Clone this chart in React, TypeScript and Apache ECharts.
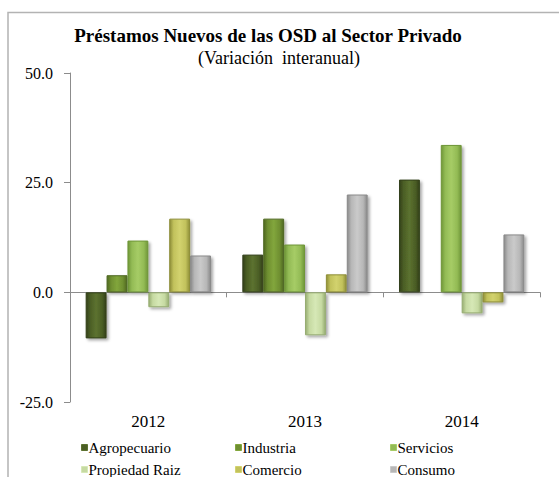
import React, { useEffect, useRef } from "react";
import * as echarts from "echarts";

const categories = ["2012", "2013", "2014"];
const seriesNames = ["Agropecuario", "Industria", "Servicios", "Propiedad Raiz", "Comercio", "Consumo"];
const agropecuario = [-10.5, 8.6, 25.7];
const industria = [3.9, 16.8, 0.2];
const servicios = [11.8, 10.9, 33.6];
const propiedadRaiz = [-3.4, -9.8, -4.8];
const comercio = [16.8, 4.1, -2.3];
const consumo = [8.4, 22.3, 13.2];
const yTicks = [-25, 0, 25, 50];

const seriesValues = [agropecuario, industria, servicios, propiedadRaiz, comercio, consumo];
const baseColors = ["#4b5e25", "#6f8f31", "#93bb55", "#c6daa2", "#c2c25c", "#b7b7b7"];
const edgeColors = ["#33401a", "#4f6822", "#6f9638", "#97ad72", "#8f8f38", "#8a8a8a"];
const lightColors = ["#5c7230", "#82a63c", "#a6cc66", "#d6e8b6", "#d2d26e", "#cacaca"];

const FONT = "Liberation Serif";

export default function App() {
  const ref = useRef<HTMLDivElement>(null);
  useEffect(() => {
    if (!ref.current) return;
    const chart = echarts.init(ref.current, undefined, { renderer: "svg" });
    const legendPos = [
      [81, 440], [235, 440], [390, 440],
      [81, 462], [235, 462], [390, 462],
    ];
    chart.setOption({
      animation: false,
      backgroundColor: "#ffffff",
      textStyle: { fontFamily: FONT },
      title: [
        {
          text: "Préstamos Nuevos de las OSD al Sector Privado",
          left: 263,
          top: 21,
          textAlign: "center",
          textStyle: { fontFamily: FONT, fontSize: 19, fontWeight: "bold", color: "#000" },
        },
        {
          text: "(Variación  interanual)",
          left: 274,
          top: 44,
          textAlign: "center",
          textStyle: { fontFamily: FONT, fontSize: 18, fontWeight: "normal", color: "#000" },
        },
      ],
      graphic: [
        {
          type: "polyline",
          shape: { points: [[8, 480], [8, 12.5], [600, 12.5]] },
          style: { stroke: "#b3b3b3", lineWidth: 1.5, fill: null },
          silent: true,
        },
      ],
      legend: seriesNames.map((n, i) => ({
        data: [{ name: n, itemStyle: { color: baseColors[i], borderColor: lightColors[i], borderWidth: 1 } }],
        left: legendPos[i][0],
        top: legendPos[i][1],
        itemWidth: 6,
        itemHeight: 6,
        itemGap: 0,
        padding: 0,
        icon: "rect",
        selectedMode: false,
        textStyle: { fontFamily: FONT, fontSize: 15, color: "#000", padding: [0, 0, 0, -4] },
      })),
      grid: { left: 70, right: 19, top: 73, bottom: 75, containLabel: false },
      xAxis: [
        {
          type: "category",
          data: categories,
          position: "bottom",
          axisLine: { show: true, onZero: true, lineStyle: { color: "#8c8c8c", width: 1 } },
          axisTick: { show: true, length: 5, inside: false, lineStyle: { color: "#8c8c8c" } },
          axisLabel: { show: false },
          splitLine: { show: false },
        },
        {
          type: "category",
          data: categories,
          position: "bottom",
          axisLine: { show: false, onZero: false },
          axisTick: { show: false },
          axisLabel: { show: true, margin: 11, fontFamily: FONT, fontSize: 17, color: "#000" },
          splitLine: { show: false },
        },
      ],
      yAxis: {
        type: "value",
        min: yTicks[0],
        max: yTicks[yTicks.length - 1],
        interval: 25,
        axisLine: { show: true, lineStyle: { color: "#8c8c8c", width: 1 } },
        axisTick: { show: true, length: 6, inside: false, lineStyle: { color: "#8c8c8c" } },
        axisLabel: {
          margin: 17,
          fontFamily: FONT,
          fontSize: 16,
          color: "#000",
          formatter: (v: number) => v.toFixed(1),
        },
        splitLine: { show: false },
      },
      series: seriesNames.map((n, i) => ({
        name: n,
        type: "bar",
        xAxisIndex: 0,
        data: seriesValues[i],
        barGap: "0%",
        barCategoryGap: "20%",
        itemStyle: {
          color: new echarts.graphic.LinearGradient(0, 0, 1, 0, [
            { offset: 0, color: edgeColors[i] },
            { offset: 0.2, color: baseColors[i] },
            { offset: 0.5, color: lightColors[i] },
            { offset: 0.8, color: baseColors[i] },
            { offset: 1, color: edgeColors[i] },
          ]),
          borderColor: edgeColors[i],
          borderWidth: 1,
          shadowColor: "rgba(0,0,0,0.35)",
          shadowBlur: 3,
          shadowOffsetX: 2,
          shadowOffsetY: 2,
        },
      })),
    });
    return () => chart.dispose();
  }, []);
  return (
    <div
      ref={ref}
      style={{ position: "fixed", left: 0, top: 0, width: 559, height: 477, background: "#fff" }}
    />
  );
}
